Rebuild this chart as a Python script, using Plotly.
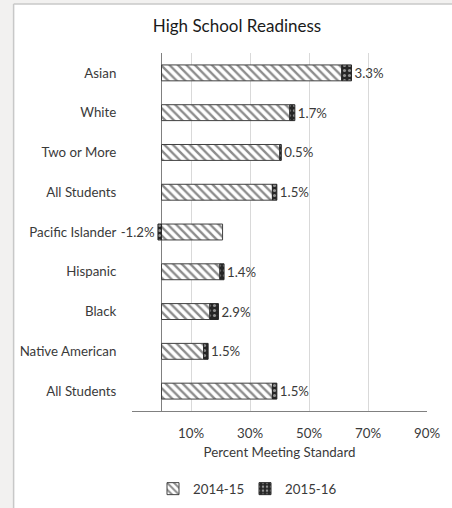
import plotly.graph_objects as go

categories = ["Asian", "White", "Two or More", "All Students", "Pacific Islander",
              "Hispanic", "Black", "Native American", "All Students"]
y2014 = [61.1, 43.5, 40.1, 37.6, 20.7, 19.8, 16.4, 14.3, 37.6]
chg2016 = [3.3, 1.7, 0.5, 1.5, -1.2, 1.4, 2.9, 1.5, 1.5]
xtick_vals = [-10, 10, 30, 50, 70, 90]
xtick_text = ["", "10%", "30%", "50%", "70%", "90%"]

W, H = 452, 508
ML, MR, MT, MB = 132, 16, 53, 97
PW, PH = W - ML - MR, H - MT - MB

def px_x(p):
    return (p - ML) / PW

def px_y(p):
    return (H - MB - p) / PH

FONT = "Lato"
FS = 13.3
TXT = "#3a3a3a"
pos = list(range(len(categories)))

fig = go.Figure()
fig.add_trace(go.Bar(
    y=pos, x=y2014, orientation="h", name="2014-15",
    marker=dict(color="white", line=dict(color="#404040", width=1),
                pattern=dict(shape="\\", fgcolor="#1a1a1a", bgcolor="white",
                             size=6, solidity=0.4)),
    hoverinfo="skip",
))
fig.add_trace(go.Bar(
    y=pos, x=chg2016, orientation="h", name="2015-16",
    marker=dict(color="#262626", line=dict(color="#262626", width=1),
                pattern=dict(shape=".", fgcolor="white", bgcolor="#262626",
                             size=5, solidity=0.3)),
    text=[f"{v:.1f}%" for v in chg2016], textposition="outside",
    textfont=dict(family=FONT, size=FS, color=TXT),
    cliponaxis=False, hoverinfo="skip",
))

BORDER = "#c8c8c8"
fig.update_layout(
    width=W, height=H,
    margin=dict(l=ML, r=MR, t=MT, b=MB),
    paper_bgcolor="#f2f1f0", plot_bgcolor="white",
    barmode="relative", bargap=0.6,
    font=dict(family=FONT, size=FS, color=TXT),
    title=dict(text="High School Readiness", x=237 / W, xanchor="center",
               y=1 - 26 / H, yanchor="middle", yref="container",
               font=dict(family=FONT, size=17, color="#1a1a1a")),
    showlegend=True,
    legend=dict(orientation="h", xref="container", yref="container",
                x=153 / W, xanchor="left", y=1 - 489 / H, yanchor="middle",
                font=dict(family=FONT, size=FS, color=TXT),
                bgcolor="rgba(0,0,0,0)", itemwidth=30, traceorder="normal",
                entrywidth=47, entrywidthmode="pixels"),
    shapes=[
        dict(type="rect", xref="paper", yref="paper", layer="below",
             x0=px_x(10), x1=px_x(W + 20), y0=px_y(H + 20), y1=px_y(4),
             fillcolor="white", line=dict(width=0)),
        dict(type="line", xref="paper", yref="paper", layer="below",
             x0=px_x(10), x1=px_x(10), y0=px_y(H + 20), y1=px_y(4),
             line=dict(color=BORDER, width=1.5)),
        dict(type="line", xref="paper", yref="paper", layer="below",
             x0=px_x(10), x1=px_x(W + 20), y0=px_y(4), y1=px_y(4),
             line=dict(color=BORDER, width=1.5)),
    ],
)
fig.update_xaxes(
    range=[-10, 90], tickvals=xtick_vals, ticktext=xtick_text,
    showgrid=True, gridcolor="#d9d9d9", gridwidth=1,
    zeroline=True, zerolinecolor="#808080", zerolinewidth=1,
    showline=True, linecolor="#808080", linewidth=1,
    ticks="outside", ticklen=10, tickcolor="rgba(0,0,0,0)",
    tickfont=dict(family=FONT, size=FS, color=TXT),
    title=dict(text="Percent Meeting Standard", standoff=7,
               font=dict(family=FONT, size=FS, color=TXT)),
)
fig.update_yaxes(
    tickvals=pos, ticktext=categories, autorange="reversed",
    showgrid=False, zeroline=False, showline=False,
    ticks="outside", ticklen=12, tickcolor="rgba(0,0,0,0)",
    tickfont=dict(family=FONT, size=FS, color=TXT),
)

fig.write_html(
    "out.html", config={"displayModeBar": False},
    post_script=("document.documentElement.style.overflow='hidden';"
                 "document.body.style.margin='0';"
                 "document.body.style.overflow='hidden';"),
)
